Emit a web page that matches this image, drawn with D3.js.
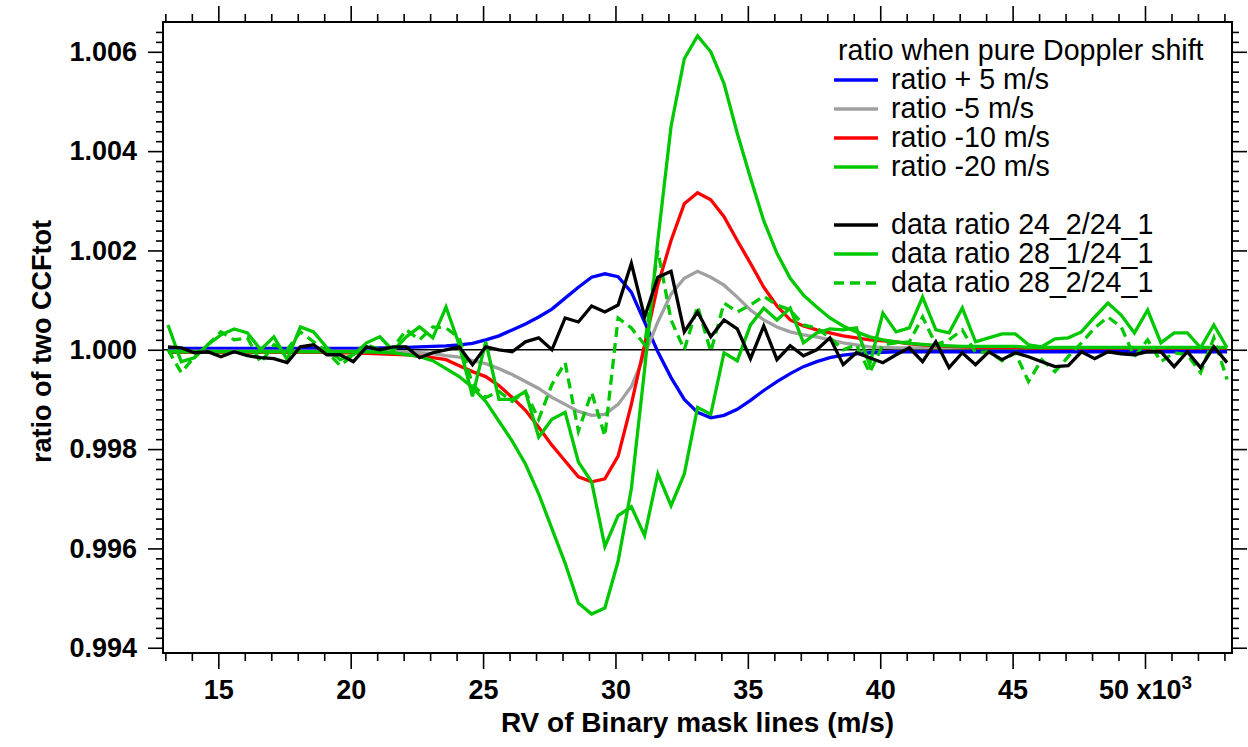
<!DOCTYPE html>
<html>
<head>
<meta charset="utf-8">
<script src="https://cdn.jsdelivr.net/npm/d3@7"></script>
<style>
  body { margin: 0; background: #fff; }
  svg text { font-family: "Liberation Sans", Arial, Helvetica, sans-serif; }
</style>
</head>
<body>
<script>
// RV grid of the binary mask lines (m/s)
let rv = [13100,13600,14100,14600,15100,15600,16100,16600,17100,17600,
          18100,18600,19100,19600,20100,20600,21100,21600,22100,22600,
          23100,23600,24100,24600,25100,25600,26100,26600,27100,27600,
          28100,28600,29100,29600,30100,30600,31100,31600,32100,32600,
          33100,33600,34100,34600,35100,35600,36100,36600,37100,37600,
          38100,38600,39100,39600,40100,40600,41100,41600,42100,42600,
          43100,43600,44100,44600,45100,45600,46100,46600,47100,47600,
          48100,48600,49100,49600,50100,50600,51100,51600,52100,52600,
          53100];

// pure Doppler shift ratios
let ratioPlus5 = [1.00003,1.00003,1.00003,1.00003,1.00003,1.00003,1.00003,1.00003,1.00003,1.00003,
    1.00003,1.00003,1.00003,1.00003,1.00003,1.00003,1.00004,1.00004,1.00005,1.00006,
    1.00007,1.00008,1.0001,1.00013,1.0002,1.00028,1.0004,1.00052,1.00066,1.00082,
    1.00104,1.00126,1.00146,1.00153,1.00147,1.00116,1.00056,0.99996,0.99944,0.999,
    0.99874,0.99863,0.99868,0.9988,0.99898,0.99918,0.99936,0.99952,0.99966,0.99976,
    0.99984,0.99989,0.99992,0.99994,0.99995,0.99996,0.99996,0.99996,0.99996,0.99996,
    0.99996,0.99996,0.99996,0.99996,0.99996,0.99996,0.99996,0.99996,0.99996,0.99996,
    0.99996,0.99996,0.99996,0.99996,0.99996,0.99996,0.99996,0.99996,0.99996,0.99996,
    0.99996];

let ratioMinus5 = [0.99997,0.99997,0.99997,0.99997,0.99997,0.99997,0.99997,0.99997,0.99997,0.99997,
    0.99997,0.99997,0.99997,0.99997,0.99997,0.99997,0.99997,0.99996,0.99996,0.99994,
    0.99992,0.99988,0.99985,0.99978,0.99972,0.99962,0.9995,0.99936,0.99922,0.99904,
    0.9989,0.99876,0.99868,0.9987,0.9989,0.99926,0.9999,1.00056,1.00112,1.00144,
    1.00158,1.00146,1.0013,1.00106,1.0008,1.0006,1.00046,1.00036,1.0003,1.00026,
    1.0002,1.00014,1.0001,1.00006,1.00005,1.00004,1.00004,1.00004,1.00004,1.00004,
    1.00004,1.00004,1.00004,1.00004,1.00004,1.00004,1.00004,1.00004,1.00004,1.00004,
    1.00004,1.00004,1.00004,1.00004,1.00004,1.00004,1.00004,1.00004,1.00004,1.00004,
    1.00004];

let ratioMinus10 = [0.99995,0.99995,0.99995,0.99995,0.99995,0.99995,0.99995,0.99995,0.99995,0.99995,
    0.99995,0.99995,0.99995,0.99994,0.99994,0.99993,0.99992,0.99991,0.9999,0.99987,
    0.99984,0.9998,0.99968,0.99956,0.99946,0.99928,0.99904,0.99878,0.99844,0.99808,
    0.99776,0.99744,0.99734,0.9974,0.99786,0.9989,1.0001,1.0013,1.0022,1.00294,
    1.00316,1.00302,1.00268,1.0022,1.00174,1.00126,1.00088,1.0006,1.00048,1.0004,
    1.00034,1.00028,1.00024,1.0002,1.00018,1.00016,1.00012,1.0001,1.00008,1.00007,
    1.00006,1.00005,1.00005,1.00005,1.00005,1.00004,1.00004,1.00004,1.00004,1.00004,
    1.00004,1.00004,1.00004,1.00004,1.00004,1.00004,1.00004,1.00004,1.00004,1.00004,
    1.00004];

let ratioMinus20 = [0.99996,0.99996,0.99996,0.99996,0.99996,0.99996,0.99996,0.99996,0.99996,0.99996,
    0.99996,0.99996,0.99996,0.99996,0.99996,0.99996,0.99995,0.99994,0.9999,0.99986,
    0.99978,0.99962,0.99946,0.99924,0.99896,0.99856,0.99816,0.9977,0.9971,0.9964,
    0.9957,0.9949,0.99468,0.9948,0.99574,0.9972,0.9996,1.0022,1.0045,1.00586,
    1.00632,1.006,1.00536,1.00436,1.00346,1.0026,1.00194,1.00144,1.0011,1.00086,
    1.00064,1.00048,1.00036,1.00026,1.0002,1.00016,1.00013,1.00011,1.00009,1.00008,
    1.00007,1.00007,1.00007,1.00007,1.00007,1.00005,1.00005,1.00005,1.00005,1.00005,
    1.00005,1.00005,1.00005,1.00005,1.00005,1.00005,1.00005,1.00005,1.00005,1.00005,
    1.00005];

// measured ratios
let data24_2 = [1.00006,1.00004,0.99994,0.99996,0.99986,0.99996,0.99988,0.99984,0.99982,0.99974,
    1.00006,1.0001,0.9999,0.9999,0.99976,1.00006,1.0,1.00006,1.00006,0.99984,
    0.99994,1.0,1.00006,0.9997,1.00006,1.0,0.99996,1.00016,1.00024,1.0,
    1.00064,1.00056,1.00088,1.00076,1.0009,1.00174,1.00066,1.00146,1.00158,1.00036,
    1.00076,1.00026,1.0006,1.00042,0.99982,1.00048,0.9998,1.00008,0.99988,1.0,
    1.00024,0.9997,0.99994,0.99984,0.99974,0.9999,1.00004,0.99976,1.00016,0.99964,
    0.99994,0.9997,0.99996,0.9998,0.99994,0.99986,0.99976,0.99966,0.99968,0.99996,
    0.99982,0.99996,0.99992,0.9999,0.99996,0.99996,0.99966,0.99996,0.99964,1.00006,
    0.99974];

let data28_1 = [1.0005,0.99976,0.99984,1.0001,1.0003,1.00042,1.00034,1.0,1.00026,0.9998,
    1.00046,1.00036,1.00004,0.9998,0.9999,1.00014,1.00026,0.99998,1.00026,1.00046,
    1.00024,1.00086,1.0001,0.99906,1.00016,0.999,0.999,0.99916,0.99824,0.9986,
    0.99874,0.99774,0.99734,0.99604,0.99666,0.99684,0.99626,0.9975,0.99686,0.9975,
    0.99884,0.9987,0.99994,0.99978,1.0005,1.00084,1.0006,1.00084,1.00014,1.00034,
    1.00042,1.0004,1.00044,0.9997,1.00074,1.00036,1.00044,1.00106,1.0004,1.00034,
    1.00084,1.00016,1.00024,1.00032,1.00032,1.0001,1.00006,1.00022,1.00024,1.00036,
    1.00066,1.00094,1.0007,1.00034,1.0008,1.00014,1.00034,1.00034,1.00004,1.0005,
    1.00004];

let data28_2 = [1.0,0.99954,0.99986,1.0001,1.00036,1.0002,1.00024,0.99974,1.0001,1.0,
    1.00036,1.00016,0.99996,0.99968,0.9999,1.0001,1.0,1.00004,1.0004,1.0002,
    1.00046,1.00044,1.00024,0.9993,0.99904,0.99916,0.99896,0.99916,0.9986,0.9993,
    0.99974,0.99836,0.99914,0.99826,1.00064,1.00044,1.0001,1.002,1.0006,1.0,
    1.00088,0.99996,1.00094,1.00076,1.0009,1.00108,1.0009,1.0008,1.0005,1.00044,
    1.00024,1.0,1.0001,0.99954,1.0001,1.00014,1.00016,1.00066,1.0001,1.0002,
    1.0004,0.99994,0.99996,0.99978,0.99994,0.99936,0.9998,0.99956,0.99986,1.00014,
    1.00044,1.00066,1.00046,0.99986,1.0002,0.99976,0.99994,0.9999,0.99954,1.00024,
    0.9994];

let xMajor = [15000, 20000, 25000, 30000, 35000, 40000, 45000, 50000];
let yMajor = [0.994, 0.996, 0.998, 1.000, 1.002, 1.004, 1.006];

let legendTitle = "ratio when pure Doppler shift";

let green = "#00c800";
let series = [
    { name: "ratio + 5 m/s", values: ratioPlus5, color: "#0000ff", dash: null, row: 1 },
    { name: "ratio -5 m/s", values: ratioMinus5, color: "#a0a0a0", dash: null, row: 2 },
    { name: "ratio -10 m/s", values: ratioMinus10, color: "#ff0000", dash: null, row: 3 },
    { name: "ratio -20 m/s", values: ratioMinus20, color: green, dash: null, row: 4 },
    { name: "data ratio 28_1/24_1", values: data28_1, color: green, dash: null, row: 7 },
    { name: "data ratio 28_2/24_1", values: data28_2, color: green, dash: "10,6", row: 8 },
    { name: "data ratio 24_2/24_1", values: data24_2, color: "#000000", dash: null, row: 6 }
];

let w = 1248, h = 747;
let pLeft = 163, pRight = 1232, pTop = 22, pBottom = 653;

let xScale = d3.scaleLinear().domain([12911, 53286]).range([pLeft, pRight]);
let yScale = d3.scaleLinear().domain([0.993894, 1.0066]).range([pBottom, pTop]);

let svg = d3.select("body").append("svg")
    .attr("width", w)
    .attr("height", h);

svg.append("rect").attr("width", w).attr("height", h).attr("fill", "#fff");

// reference line at 1.000
svg.append("line")
    .attr("x1", pLeft).attr("x2", pRight)
    .attr("y1", yScale(1)).attr("y2", yScale(1))
    .attr("stroke", "#000")
    .attr("stroke-width", 1.5);

let line = d3.line()
    .x(function(d, i) { return xScale(rv[i]); })
    .y(function(d) { return yScale(d); });

svg.append("g").selectAll("path")
    .data(series)
    .enter()
    .append("path")
    .attr("d", function(s) { return line(s.values); })
    .attr("fill", "none")
    .attr("stroke", function(s) { return s.color; })
    .attr("stroke-width", 3.3)
    .attr("stroke-linejoin", "miter")
    .attr("stroke-dasharray", function(s) { return s.dash; });

/************** axes **************/
let xMinor = d3.range(13000, 53001, 1000).filter(function(v) { return xMajor.indexOf(v) < 0; });
let yMinor = d3.range(0, 63).map(function(k) { return +(0.994 + k * 0.0002).toFixed(4); })
    .filter(function(v) { return yMajor.indexOf(v) < 0; });

function styleAxis(g) {
    g.select(".domain").remove();
    g.selectAll(".tick line").attr("stroke", "#000").attr("stroke-width", 1.6);
    g.selectAll(".tick text")
        .attr("fill", "#000")
        .attr("font-size", "27px")
        .attr("font-weight", "bold")
        .attr("font-family", "'Liberation Sans', Arial, sans-serif");
}

// bottom
svg.append("g").attr("transform", "translate(0," + pBottom + ")")
    .call(d3.axisBottom(xScale).tickValues(xMinor).tickSize(8).tickFormat(""))
    .call(styleAxis);
let xAxisG = svg.append("g").attr("transform", "translate(0," + pBottom + ")")
    .call(d3.axisBottom(xScale).tickValues(xMajor).tickSize(16).tickPadding(11)
        .tickFormat(function(d) { return d / 1000; }))
    .call(styleAxis);

// "50 x10^3" label
xAxisG.selectAll(".tick text")
    .filter(function(d) { return d === 50000; })
    .text(null)
    .call(function(t) {
        t.append("tspan").text("50 x10");
        t.append("tspan").attr("dy", "-0.55em").attr("font-size", "19px").text("3");
    });

// top (mirror)
svg.append("g").attr("transform", "translate(0," + pTop + ")")
    .call(d3.axisTop(xScale).tickValues(xMinor).tickSize(8).tickFormat(""))
    .call(styleAxis);
svg.append("g").attr("transform", "translate(0," + pTop + ")")
    .call(d3.axisTop(xScale).tickValues(xMajor).tickSize(16).tickFormat(""))
    .call(styleAxis);

// left
svg.append("g").attr("transform", "translate(" + pLeft + ",0)")
    .call(d3.axisLeft(yScale).tickValues(yMinor).tickSize(7).tickFormat(""))
    .call(styleAxis);
svg.append("g").attr("transform", "translate(" + pLeft + ",0)")
    .call(d3.axisLeft(yScale).tickValues(yMajor).tickSize(15).tickPadding(11)
        .tickFormat(d3.format(".3f")))
    .call(styleAxis);

// right (mirror)
svg.append("g").attr("transform", "translate(" + pRight + ",0)")
    .call(d3.axisRight(yScale).tickValues(yMinor).tickSize(7).tickFormat(""))
    .call(styleAxis);
svg.append("g").attr("transform", "translate(" + pRight + ",0)")
    .call(d3.axisRight(yScale).tickValues(yMajor).tickSize(15).tickFormat(""))
    .call(styleAxis);

// frame
svg.append("rect")
    .attr("x", pLeft).attr("y", pTop)
    .attr("width", pRight - pLeft).attr("height", pBottom - pTop)
    .attr("fill", "none")
    .attr("stroke", "#000")
    .attr("stroke-width", 2);

// axis titles
svg.append("text")
    .attr("x", (pLeft + pRight) / 2)
    .attr("y", 732)
    .attr("text-anchor", "middle")
    .attr("font-size", "28px")
    .attr("font-weight", "bold")
    .text("RV of Binary mask lines (m/s)");

svg.append("text")
    .attr("transform", "translate(51," + ((pTop + pBottom) / 2 + 4) + ") rotate(-90)")
    .attr("text-anchor", "middle")
    .attr("font-size", "27px")
    .attr("font-weight", "bold")
    .text("ratio of two CCFtot");

/************** legend **************/
let rowH = 29, row0 = 51;
let legend = svg.append("g");

legend.append("text")
    .attr("x", 838)
    .attr("y", row0 + 9)
    .attr("font-size", "28.6px")
    .text(legendTitle);

let items = legend.selectAll("g.item")
    .data(series.slice().sort(function(a, b) { return a.row - b.row; }))
    .enter()
    .append("g")
    .attr("class", "item")
    .attr("transform", function(s) { return "translate(0," + (row0 + s.row * rowH) + ")"; });

items.append("line")
    .attr("x1", 834).attr("x2", 878)
    .attr("stroke", function(s) { return s.color; })
    .attr("stroke-width", 3.3)
    .attr("stroke-dasharray", function(s) { return s.dash; });

items.append("text")
    .attr("x", 891)
    .attr("y", 9)
    .attr("font-size", "28.6px")
    .text(function(s) { return s.name; });
</script>
</body>
</html>
